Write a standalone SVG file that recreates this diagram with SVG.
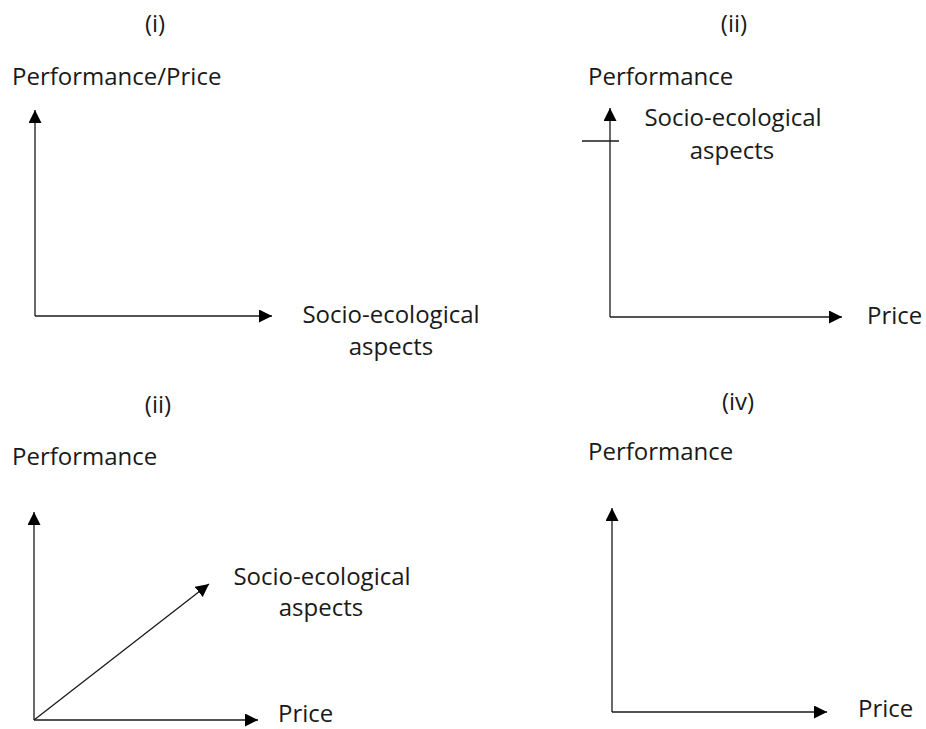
<svg xmlns="http://www.w3.org/2000/svg" width="926" height="729" viewBox="0 0 926 729">
<style>
text{font-family:"Open Sans","Liberation Sans",sans-serif;font-size:24px;fill:#1a1a1a}
.c{text-anchor:middle}
.ax{stroke:#1a1a1a;stroke-width:1.3;fill:none}
</style>
<defs>
<marker id="ah" markerUnits="userSpaceOnUse" markerWidth="14" markerHeight="14" refX="13" refY="6.5" orient="auto">
<path d="M0,0 L13,6.5 L0,13 z" fill="#000"/>
</marker>
</defs>
<rect width="926" height="729" fill="#fff"/>
<g id="connectors">
<line class="ax" x1="35" y1="316" x2="35" y2="110" marker-end="url(#ah)"/>
<line class="ax" x1="35" y1="316" x2="272" y2="316" marker-end="url(#ah)"/>
<line class="ax" x1="610" y1="317" x2="610" y2="108" marker-end="url(#ah)"/>
<line class="ax" x1="610" y1="317" x2="842" y2="317" marker-end="url(#ah)"/>
<line class="ax" x1="582" y1="141" x2="619" y2="141"/>
<line class="ax" x1="34" y1="720" x2="34" y2="512" marker-end="url(#ah)"/>
<line class="ax" x1="34" y1="720" x2="258" y2="720" marker-end="url(#ah)"/>
<line class="ax" x1="34" y1="720" x2="209" y2="584" marker-end="url(#ah)"/>
<line class="ax" x1="612" y1="712" x2="612" y2="508" marker-end="url(#ah)"/>
<line class="ax" x1="612" y1="712" x2="827" y2="712" marker-end="url(#ah)"/>
</g>
<g id="panel-i">
<text class="c" x="155" y="32">(i)</text>
<text x="12" y="85">Performance/Price</text>
<text class="c" x="391" y="323">Socio-ecological</text>
<text class="c" x="391" y="355">aspects</text>
</g>
<g id="panel-ii">
<text class="c" x="734" y="32">(ii)</text>
<text x="588" y="85">Performance</text>
<text class="c" x="733" y="126">Socio-ecological</text>
<text class="c" x="732" y="159">aspects</text>
<text x="867" y="324">Price</text>
</g>
<g id="panel-iii">
<text class="c" x="158" y="413">(ii)</text>
<text x="12" y="465">Performance</text>
<text class="c" x="322" y="585">Socio-ecological</text>
<text class="c" x="321" y="616">aspects</text>
<text x="278" y="722">Price</text>
</g>
<g id="panel-iv">
<text class="c" x="738" y="410">(iv)</text>
<text x="588" y="460">Performance</text>
<text x="858" y="717">Price</text>
</g>
</svg>
